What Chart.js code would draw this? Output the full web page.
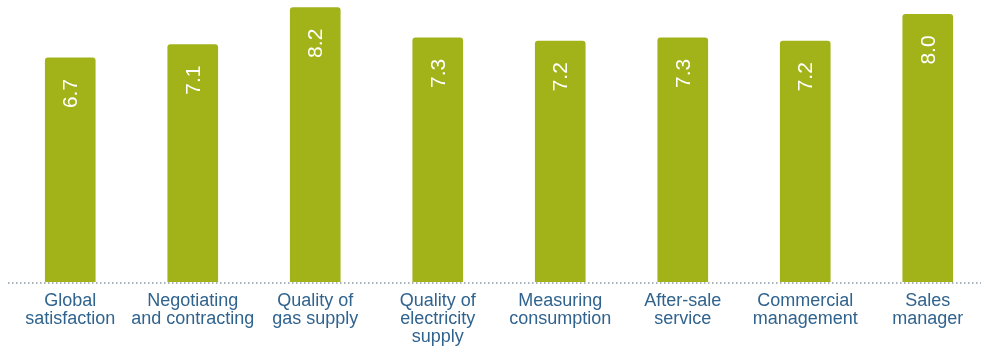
<!DOCTYPE html>
<html>
<head>
<meta charset="utf-8">
<script src="https://cdn.jsdelivr.net/npm/chart.js@4"></script>
<style>
  html, body { margin: 0; padding: 0; background: #fff; overflow: hidden; }
  #wrap { width: 990px; height: 347px; position: relative; }
</style>
</head>
<body>
<div id="wrap"><canvas id="chart"></canvas></div>
<script>
// categories (multi-line labels) and scores
const categories = [
  ["Global", "satisfaction"],
  ["Negotiating", "and contracting"],
  ["Quality of", "gas supply"],
  ["Quality of", "electricity", "supply"],
  ["Measuring", "consumption"],
  ["After-sale", "service"],
  ["Commercial", "management"],
  ["Sales", "manager"]
];
const scores = [6.7, 7.1, 8.2, 7.3, 7.2, 7.3, 7.2, 8.0];

const barColor = "#a2b31a";
const labelColor = "#30638e";

// dotted baseline under the bars
const dottedBase = {
  id: "dottedBase",
  beforeDatasetsDraw(chart) {
    const ctx = chart.ctx;
    const y = chart.chartArea.bottom + 1;
    ctx.save();
    ctx.strokeStyle = "#8e9aa4";
    ctx.lineWidth = 1.5;
    ctx.setLineDash([1.5, 2.5]);
    ctx.beginPath();
    ctx.moveTo(8, y);
    ctx.lineTo(981, y);
    ctx.stroke();
    ctx.restore();
  }
};

// white rotated values inside the bars, near the top
const valueLabels = {
  id: "valueLabels",
  afterDatasetsDraw(chart) {
    const ctx = chart.ctx;
    const meta = chart.getDatasetMeta(0);
    ctx.save();
    ctx.fillStyle = "#ffffff";
    ctx.font = "21px 'Liberation Sans', Arial, sans-serif";
    ctx.textAlign = "right";
    ctx.textBaseline = "middle";
    meta.data.forEach((bar, i) => {
      ctx.save();
      ctx.translate(bar.x + 1, bar.y + 21);
      ctx.rotate(-Math.PI / 2);
      ctx.fillText(scores[i].toFixed(1), 0, 0);
      ctx.restore();
    });
    ctx.restore();
  }
};

new Chart(document.getElementById("chart"), {
  type: "bar",
  data: {
    labels: categories,
    datasets: [{
      data: scores,
      backgroundColor: barColor,
      borderRadius: 3,
      borderSkipped: "bottom",
      barThickness: 50
    }]
  },
  options: {
    responsive: true,
    maintainAspectRatio: false,
    animation: false,
    layout: { padding: { left: 9, right: 1, top: 0, bottom: -9 } },
    plugins: { legend: { display: false }, tooltip: { enabled: false } },
    scales: {
      x: {
        grid: { display: false, drawTicks: false },
        border: { display: false },
        ticks: {
          color: labelColor,
          font: { family: "'Liberation Sans', Arial, sans-serif", size: 18, lineHeight: 1.0 },
          padding: 10,
          maxRotation: 0,
          autoSkip: false
        }
      },
      y: {
        display: false,
        min: 0,
        max: 8.43
      }
    }
  },
  plugins: [dottedBase, valueLabels]
});
</script>
</body>
</html>
